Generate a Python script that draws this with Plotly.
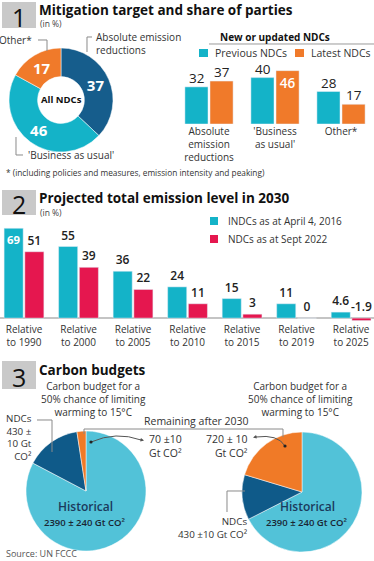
import plotly.graph_objects as go

W, H = 374, 561

def X(px):
    return px / W

def Y(py):
    return 1 - py / H

# ---------------- DATA ----------------
# Section 1: mitigation target (All NDCs donut)
donut_labels = ["Absolute emission reductions", "'Business as usual'", "Other*"]
donut_values = [37, 46, 17]

# Section 1: new or updated NDCs
cats1 = ["Absolute<br>emission<br>reductions", "'Business<br>as usual'", "Other*"]
previous_ndcs = [32, 40, 28]
latest_ndcs = [37, 46, 17]

# Section 2: projected total emission level in 2030
cats2 = ["Relative<br>to 1990", "Relative<br>to 2000", "Relative<br>to 2005",
         "Relative<br>to 2010", "Relative<br>to 2015", "Relative<br>to 2019",
         "Relative<br>to 2025"]
indcs_2016 = [69, 55, 36, 24, 15, 11, 4.6]
ndcs_2022 = [51, 39, 22, 11, 3, 0, -1.9]

# Section 3: carbon budgets (Gt CO2)
budget_labels = ["Historical", "NDCs", "Remaining after 2030"]
budget_left = [2390, 430, 70]
budget_right = [2390, 430, 720]

# ---------------- COLOURS ----------------
CYAN = "#14b3c8"
ORANGE = "#f07a2a"
DBLUE = "#165d8c"
CRIMSON = "#e5174f"
PIE_CYAN = "#52c2d8"
PIE_DBLUE = "#0f5a89"
PIE_ORANGE = "#f07a27"
GRAY_BOX = "#c9c9c9"
TXT = "#222222"
FONT = "Open Sans"

fig = go.Figure()

# ---- Section 1 donut ----
fig.add_trace(go.Pie(
    labels=donut_labels, values=donut_values, sort=False, direction="clockwise",
    rotation=0, hole=0.45,
    marker=dict(colors=[DBLUE, CYAN, ORANGE], line=dict(color="white", width=0.5)),
    textinfo="value", textposition="inside", insidetextorientation="horizontal",
    textfont=dict(family=FONT, size=15, color="white", weight=700),
    domain=dict(x=[X(8), X(114)], y=[Y(152), Y(48)]),
    showlegend=False, hoverinfo="label+value",
))

# ---- Section 1 bars ----
fig.add_trace(go.Bar(
    x=cats1, y=previous_ndcs, name="Previous NDCs", marker_color=CYAN,
    cliponaxis=False, xaxis="x", yaxis="y", showlegend=False,
))
fig.add_trace(go.Bar(
    x=cats1, y=latest_ndcs, name="Latest NDCs", marker_color=ORANGE,
    text=["", str(latest_ndcs[1]), ""],
    textposition="inside", insidetextanchor="end",
    insidetextfont=dict(family=FONT, size=13.5, color="white", weight=600),
    cliponaxis=False, xaxis="x", yaxis="y", showlegend=False,
))

# ---- Section 2 bars ----
fig.add_trace(go.Bar(
    x=cats2, y=indcs_2016, name="INDCs as at April 4, 2016", marker_color=CYAN,
    text=[str(v) for v in indcs_2016],
    textposition=["inside"] + ["outside"] * 6, insidetextanchor="end",
    outsidetextfont=dict(family=FONT, size=12, color=TXT, weight=600),
    insidetextfont=dict(family=FONT, size=12, color="white", weight=700),
    cliponaxis=False, xaxis="x2", yaxis="y2", showlegend=False,
))
fig.add_trace(go.Bar(
    x=cats2, y=ndcs_2022, name="NDCs as at Sept 2022", marker_color=CRIMSON,
    text=[str(v) if v >= 0 else "" for v in ndcs_2022], textposition="outside",
    outsidetextfont=dict(family=FONT, size=12, color=TXT, weight=600),
    cliponaxis=False, xaxis="x2", yaxis="y2", showlegend=False,
))

# ---- Section 3 pies ----
pie_common = dict(
    labels=budget_labels, sort=False, direction="clockwise", rotation=0,
    marker=dict(colors=[PIE_CYAN, PIE_DBLUE, PIE_ORANGE], line=dict(color="white", width=0.5)),
    textinfo="none", showlegend=False, hoverinfo="label+value",
)
fig.add_trace(go.Pie(values=budget_left, domain=dict(x=[X(25), X(147)], y=[Y(551), Y(431)]), **pie_common))
fig.add_trace(go.Pie(values=budget_right, domain=dict(x=[X(241), X(363)], y=[Y(552), Y(432)]), **pie_common))

# ---------------- LAYOUT ----------------
shapes = []
ann = []

def text(px, py, s, size=10, color=TXT, weight=400, xanchor="left", align="left", yanchor="middle"):
    ann.append(dict(x=X(px), y=Y(py), xref="paper", yref="paper", text=s, showarrow=False,
                    xanchor=xanchor, yanchor=yanchor, align=align,
                    font=dict(family=FONT, size=size, color=color, weight=weight)))

def path(points, color="#8a8a8a", width=1):
    d = "M " + " L ".join(f"{X(a):.5f},{Y(b):.5f}" for a, b in points)
    shapes.append(dict(type="path", path=d, xref="paper", yref="paper",
                       line=dict(color=color, width=width)))

def rect(x0, y0, x1, y1, color):
    shapes.append(dict(type="rect", xref="paper", yref="paper", x0=X(x0), x1=X(x1),
                       y0=Y(y1), y1=Y(y0), fillcolor=color, line=dict(width=0)))

# value labels above the section-1 bars (from the data arrays)
for series, shift in ((previous_ndcs, -12.5), (latest_ndcs, 12.5)):
    for c, v in zip(cats1, series):
        if series is latest_ndcs and v == max(latest_ndcs):
            continue  # shown inside the bar
        ann.append(dict(x=c, y=v, xref="x", yref="y", text=str(v), showarrow=False,
                        xshift=shift, yshift=-2, yanchor="bottom",
                        font=dict(family=FONT, size=13.5, color=TXT, weight=500)))

# section number boxes + titles
for (y0, y1, n, title, sub) in [
    (2, 28, "1", "Mitigation target and share of parties", True),
    (190, 215, "2", "Projected total emission level in 2030", True),
    (361, 389, "3", "Carbon budgets", False),
]:
    rect(2, y0, 36, y1, GRAY_BOX)
    text(19, (y0 + y1) / 2 + 1.5, n, size=25, color="#111", xanchor="center", align="center")
    text(37, y0 + 8.5, title, size=13.5, color="#111", weight=700)
    if sub:
        text(38, y0 + 22, "(in %)", size=8.5, color="#444")

# --- section 1 annotations ---
text(61, 100, "All NDCs", size=9.5, color="#111", weight=700, xanchor="center", align="center")
text(34, 40, "Other*", size=10, color="#333", xanchor="right", align="right")
path([(38, 40), (47, 40), (47, 51)])
text(94, 44, "Absolute emission<br>reductions", size=10, color="#333")
path([(92, 37), (87, 37), (87, 52)])
text(26, 155, "'Business as usual'", size=10, color="#333")
path([(16, 137), (16, 155), (23, 155)])
text(4, 172, "* (including policies and measures, emission intensity and peaking)", size=8.3, color="#333")

text(275, 37, "New or updated NDCs", size=10, color="#111", weight=700, xanchor="center", align="center")
path([(209, 44), (374, 44)], color="#9a9a9a")
rect(199, 49, 208, 57, CYAN)
text(213, 53, "Previous NDCs", size=10.5, color="#333")
rect(295, 49, 304, 57, ORANGE)
text(309, 53, "Latest NDCs", size=10.5, color="#333")

# --- section 2 legend ---
rect(210, 217, 218, 225, CYAN)
text(226, 221, "INDCs as at April 4, 2016", size=10, color="#333")
rect(210, 235, 218, 243, CRIMSON)
text(226, 239, "NDCs as at Sept 2022", size=10, color="#333")

# negative value label above the baseline
ann.append(dict(x=cats2[6], y=0, xref="x2", yref="y2", text=str(ndcs_2022[6]), showarrow=False,
                xshift=10, yshift=1, yanchor="bottom",
                font=dict(family=FONT, size=12, color=TXT, weight=600)))

# --- section 3 annotations ---
cb = "Carbon budget for a<br>50% chance of limiting<br>warming to 15°C"
text(93, 399, cb, size=10, color="#333", xanchor="center", align="center")
text(300, 399, cb, size=10, color="#333", xanchor="center", align="center")
text(196, 421, "Remaining after 2030", size=10.5, color="#333", xanchor="center", align="center")
path([(84, 434), (84, 429), (283, 429), (283, 437)])
text(147, 446, "70 ±10<br>Gt CO²", size=10.5, color="#333")
text(250, 446, "720 ± 10<br>Gt CO²", size=10.5, color="#333", xanchor="right", align="right")

# curved connectors with dots
shapes.append(dict(type="path", xref="paper", yref="paper",
                   path=f"M {X(91):.5f},{Y(442):.5f} Q {X(116):.5f},{Y(431):.5f} {X(141):.5f},{Y(440):.5f}",
                   line=dict(color="#555", width=1)))
shapes.append(dict(type="path", xref="paper", yref="paper",
                   path=f"M {X(285):.5f},{Y(446):.5f} Q {X(278):.5f},{Y(434):.5f} {X(256):.5f},{Y(437):.5f}",
                   line=dict(color="#555", width=1)))
for cx, cy in [(91, 442), (285, 446)]:
    shapes.append(dict(type="circle", xref="paper", yref="paper",
                       x0=X(cx - 1.6), x1=X(cx + 1.6), y0=Y(cy + 1.6), y1=Y(cy - 1.6),
                       fillcolor="#222", line=dict(width=0)))
ann.append(dict(x=X(144), y=Y(440.5), xref="paper", yref="paper", text="", showarrow=True,
                ax=-5, ay=-1, arrowhead=2, arrowsize=0.7, arrowwidth=1, arrowcolor="#555"))
ann.append(dict(x=X(253), y=Y(437.5), xref="paper", yref="paper", text="", showarrow=True,
                ax=5, ay=-1, arrowhead=2, arrowsize=0.7, arrowwidth=1, arrowcolor="#555"))

text(34, 437, "NDCs<br>430 ±<br>10 Gt<br>CO²", size=9.8, color="#333", xanchor="right", align="right")
path([(37, 420), (52, 420), (52, 452)])
text(249, 528, "NDCs<br>430 ±10 Gt CO²", size=9.8, color="#333", xanchor="right", align="right")
path([(227, 512), (227, 491), (245, 491)])

for cx in (85, 307):
    text(cx, 507, "Historical", size=12, color="#1b3a5c", weight=600, xanchor="center", align="center")
    text(cx - 1, 522, "2390 ± 240 Gt CO²", size=9.5, color="#1a2633", weight=600, xanchor="center", align="center")

text(4, 553, "Source: UN FCCC", size=9, color="#555")

fig.update_layout(
    width=W, height=H, margin=dict(l=0, r=0, t=0, b=0),
    paper_bgcolor="white", plot_bgcolor="rgba(0,0,0,0)",
    barmode="group", bargap=0.24, bargroupgap=0.08,
    font=dict(family=FONT, color=TXT),
    shapes=shapes, annotations=ann,
    xaxis=dict(domain=[X(176), 1], range=[-0.5, 2.5], showgrid=False, zeroline=False,
               showline=False, ticks="", tickfont=dict(family=FONT, size=10, color="#333"),
               anchor="y", fixedrange=True),
    yaxis=dict(domain=[Y(124), Y(66)], range=[0, 50], visible=False, fixedrange=True, anchor="x"),
    xaxis2=dict(domain=[0, 1], range=[-0.44, 6.42], showgrid=False, zeroline=False,
                showline=False, ticks="", tickfont=dict(family=FONT, size=10, color="#333"),
                anchor="y2", fixedrange=True),
    yaxis2=dict(domain=[Y(322), Y(220.5)], range=[-3, 75], showgrid=False, showticklabels=False,
                zeroline=True, zerolinecolor="#c4c4c4", zerolinewidth=2, anchor="x2", fixedrange=True),
)

fig.write_html(
    "out.html",
    config={"displayModeBar": False},
    post_script="document.body.style.margin='0';document.body.style.overflow='hidden';",
)
